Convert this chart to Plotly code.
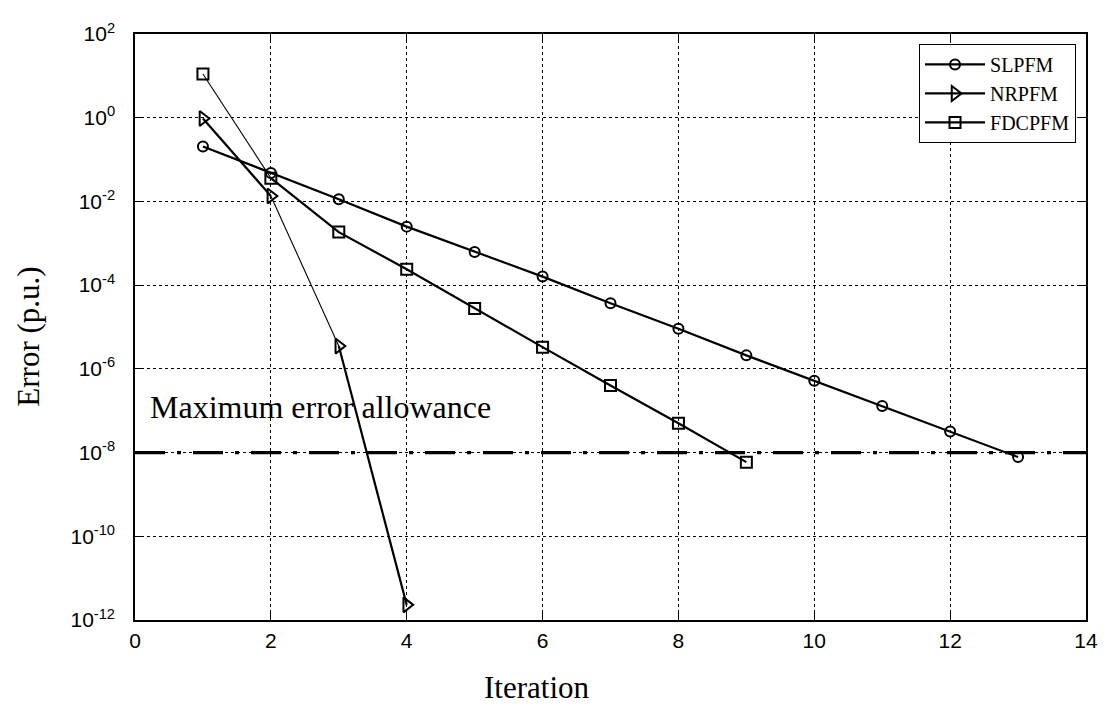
import plotly.graph_objects as go

iterations_sl = [1, 2, 3, 4, 5, 6, 7, 8, 9, 10, 11, 12, 13]
slpfm = [0.206, 0.048, 0.0113, 2.5e-3, 6.2e-4, 1.6e-4, 3.7e-5, 9.1e-6, 2.1e-6, 5.2e-7, 1.3e-7, 3.2e-8, 7.8e-9]
iterations_nr = [1, 2, 3, 4]
nrpfm = [0.96, 0.0135, 3.5e-6, 2.3e-12]
iterations_fd = [1, 2, 3, 4, 5, 6, 7, 8, 9]
fdcpfm = [11.1, 0.036, 1.85e-3, 2.4e-4, 2.75e-5, 3.3e-6, 4.0e-7, 5.0e-8, 5.9e-9]
threshold = 1e-8
threshold_x = [0, 14]
ytick_exp = [-12, -10, -8, -6, -4, -2, 0, 2]
xticks = [0, 2, 4, 6, 8, 10, 12, 14]

SERIF = "Liberation Serif"
SANS = "Liberation Sans"

series = [
    ("SLPFM", iterations_sl, slpfm, "circle-open", 10, []),
    ("NRPFM", iterations_nr, nrpfm, "triangle-right-open", 13, [1]),
    ("FDCPFM", iterations_fd, fdcpfm, "square-open", 11, [0]),
]

fig = go.Figure()

# threshold line
fig.add_trace(go.Scatter(x=threshold_x, y=[threshold, threshold], mode="lines",
                         line=dict(color="black", width=3.2, dash="30px,12px,4px,12px"),
                         showlegend=False, hoverinfo="skip"))

for name, xs, ys, sym, msize, thin in series:
    for i in thin:
        fig.add_trace(go.Scatter(x=xs[i:i + 2], y=ys[i:i + 2], mode="lines",
                                 line=dict(color="black", width=1.1),
                                 showlegend=False, hoverinfo="skip"))
    tx, ty = [], []
    for i in range(len(xs)):
        tx.append(xs[i]); ty.append(ys[i])
        if i in thin:
            tx.append(None); ty.append(None)
    fig.add_trace(go.Scatter(x=tx, y=ty, mode="lines+markers", name=name,
                             connectgaps=False,
                             line=dict(color="black", width=2.2),
                             marker=dict(symbol=sym, size=msize, color="black",
                                         line=dict(width=2, color="black"))))

axis_common = dict(showgrid=True, gridcolor="black", griddash="3px,3px", gridwidth=1,
                   showline=True, linecolor="black", linewidth=1.5, mirror="ticks",
                   ticks="inside", ticklen=8, tickcolor="black", tickwidth=1,
                   zeroline=False, tickfont=dict(family=SANS, size=21, color="black"))

fig.update_xaxes(range=[0, 14], tickvals=xticks, ticktext=[str(v) for v in xticks],
                 ticklabelstandoff=1, **axis_common)
fig.update_yaxes(type="log", range=[-12, 2], tickvals=[10.0 ** e for e in ytick_exp],
                 ticktext=["10<sup>%d</sup>" % e for e in ytick_exp],
                 ticklabelstandoff=14, **axis_common)

fig.update_layout(
    width=1102, height=703,
    margin=dict(l=127, r=21, t=19, b=91),
    paper_bgcolor="white", plot_bgcolor="white",
    font=dict(family=SERIF, color="black"),
    legend=dict(x=0.9895, y=0.983, xanchor="right", yanchor="top",
                bgcolor="white", bordercolor="black", borderwidth=1,
                font=dict(family=SERIF, size=20, color="black"),
                tracegroupgap=0, itemwidth=60),
    annotations=[
        dict(text="Maximum error allowance", x=0.19, y=-6.92, xref="x", yref="y",
             xanchor="left", yanchor="middle", showarrow=False,
             font=dict(family=SERIF, size=32, color="black")),
        dict(text="Iteration", x=0.4224, y=-0.1147, xref="paper", yref="paper",
             xanchor="center", yanchor="middle", showarrow=False,
             font=dict(family=SERIF, size=31, color="black")),
        dict(text="Error (p.u.)", x=-0.1122, y=0.484, xref="paper", yref="paper",
             xanchor="center", yanchor="middle", showarrow=False, textangle=-90,
             font=dict(family=SERIF, size=31, color="black")),
    ],
)

fig.write_html("out.html")
